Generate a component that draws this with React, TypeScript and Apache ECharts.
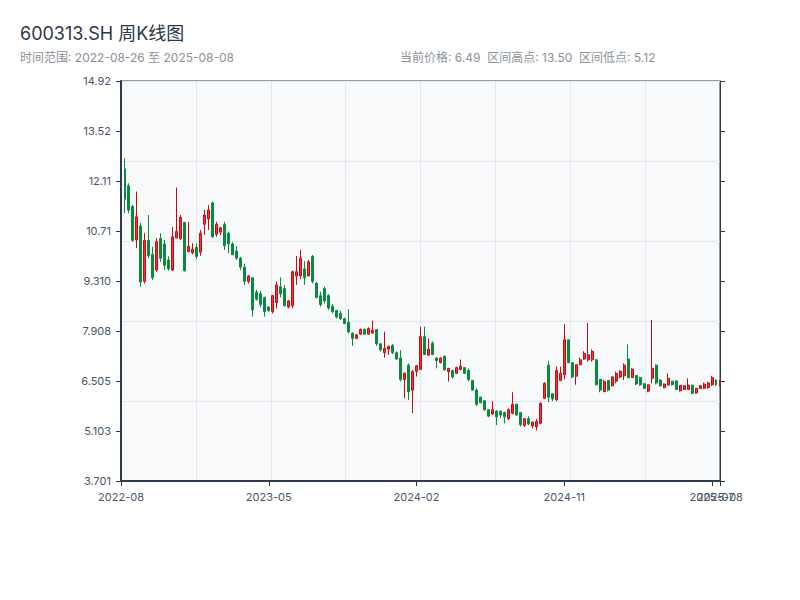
import React, { useEffect, useRef } from "react";
import * as echarts from "echarts";

const dates = [
  "2022-08-26","2022-09-02","2022-09-09","2022-09-16","2022-09-23","2022-09-30","2022-10-14","2022-10-21","2022-10-28","2022-11-04",
  "2022-11-11","2022-11-18","2022-11-25","2022-12-02","2022-12-09","2022-12-16","2022-12-23","2022-12-30","2023-01-06","2023-01-13",
  "2023-01-20","2023-02-03","2023-02-10","2023-02-17","2023-02-24","2023-03-03","2023-03-10","2023-03-17","2023-03-24","2023-03-31",
  "2023-04-07","2023-04-14","2023-04-21","2023-04-28","2023-05-05","2023-05-12","2023-05-19","2023-05-26","2023-06-02","2023-06-09",
  "2023-06-16","2023-06-21","2023-06-30","2023-07-07","2023-07-14","2023-07-21","2023-07-28","2023-08-04","2023-08-11","2023-08-18",
  "2023-08-25","2023-09-01","2023-09-08","2023-09-15","2023-09-22","2023-09-28","2023-10-13","2023-10-20","2023-10-27","2023-11-03",
  "2023-11-10","2023-11-17","2023-11-24","2023-12-01","2023-12-08","2023-12-15","2023-12-22","2023-12-29","2024-01-05","2024-01-12",
  "2024-01-19","2024-01-26","2024-02-02","2024-02-08","2024-02-23","2024-03-01","2024-03-08","2024-03-15","2024-03-22","2024-03-29",
  "2024-04-03","2024-04-12","2024-04-19","2024-04-26","2024-04-30","2024-05-10","2024-05-17","2024-05-24","2024-05-31","2024-06-07",
  "2024-06-14","2024-06-21","2024-06-28","2024-07-05","2024-07-12","2024-07-19","2024-07-26","2024-08-02","2024-08-09","2024-08-16",
  "2024-08-23","2024-08-30","2024-09-06","2024-09-13","2024-09-20","2024-09-27","2024-09-30","2024-10-11","2024-10-18","2024-10-25",
  "2024-11-01","2024-11-08","2024-11-15","2024-11-22","2024-11-29","2024-12-06","2024-12-13","2024-12-20","2024-12-27","2025-01-03",
  "2025-01-10","2025-01-17","2025-01-24","2025-01-27","2025-02-07","2025-02-14","2025-02-21","2025-02-28","2025-03-07","2025-03-14",
  "2025-03-21","2025-03-28","2025-04-03","2025-04-11","2025-04-18","2025-04-25","2025-04-30","2025-05-09","2025-05-16","2025-05-23",
  "2025-05-30","2025-06-06","2025-06-13","2025-06-20","2025-06-27","2025-07-04","2025-07-11","2025-07-18","2025-07-25","2025-08-01",
  "2025-08-08",
];

const opens = [
  11.72,12.45,11.98,11.40,10.46,10.85,9.30,10.45,10.05,9.62,
  10.50,10.35,9.90,9.62,10.52,10.50,10.95,10.13,10.10,10.25,
  10.12,10.90,11.05,11.50,10.62,10.68,10.90,10.65,10.35,10.15,
  9.95,9.70,9.30,9.40,9.00,8.95,8.85,8.58,8.45,8.70,
  9.15,9.10,8.58,8.62,9.45,9.45,9.65,9.45,10.00,9.25,
  8.90,9.10,8.90,8.60,8.48,8.40,8.25,8.15,7.85,7.70,
  7.82,7.95,7.82,7.85,7.95,7.55,7.30,7.40,7.50,7.30,
  7.15,6.55,6.95,6.25,6.78,6.83,7.75,7.23,7.56,7.15,
  7.02,7.20,6.77,6.80,6.72,6.83,6.88,6.80,6.52,6.25,
  6.05,5.95,5.70,5.58,5.66,5.66,5.62,5.45,5.60,5.85,
  5.62,5.26,5.45,5.25,5.22,5.32,6.02,6.95,6.15,5.98,
  6.52,6.68,7.66,7.02,6.64,6.96,7.12,7.10,7.10,7.10,
  6.55,6.21,6.52,6.37,6.50,6.62,6.65,7.12,6.60,6.66,
  6.60,6.43,6.22,6.58,6.95,6.53,6.32,6.39,6.50,6.51,
  6.23,6.27,6.27,6.39,6.17,6.29,6.30,6.32,6.40,6.53,
  6.38,
];

const closes = [
  12.72,11.60,11.30,10.45,11.11,9.28,10.45,10.02,9.40,10.41,
  9.95,9.75,9.65,10.55,10.70,11.10,9.60,10.28,10.20,10.00,
  10.65,11.16,11.30,10.55,10.90,10.80,10.30,10.35,10.05,9.95,
  9.70,9.30,9.45,8.50,8.80,8.65,8.45,8.48,8.90,9.20,
  8.95,8.62,8.75,9.57,9.57,9.95,9.40,9.85,9.30,8.85,
  8.65,8.75,8.55,8.45,8.30,8.25,8.12,7.88,7.70,7.80,
  7.95,7.82,7.98,7.93,7.55,7.38,7.42,7.48,7.30,7.12,
  6.55,6.72,6.20,6.77,6.93,7.75,7.25,7.40,7.25,7.08,
  7.15,6.82,6.86,6.62,6.88,6.92,6.72,6.55,6.25,5.85,
  5.90,5.70,5.52,5.70,5.50,5.55,5.50,5.70,5.85,5.55,
  5.28,5.45,5.30,5.35,5.37,5.88,6.44,6.05,6.00,6.80,
  6.72,7.66,7.02,6.62,6.96,7.10,7.28,7.24,7.34,6.40,
  6.25,6.49,6.25,6.62,6.72,6.78,6.95,6.60,6.84,6.42,
  6.40,6.30,6.40,6.86,6.45,6.37,6.42,6.58,6.40,6.27,
  6.38,6.37,6.39,6.16,6.30,6.37,6.42,6.45,6.60,6.40,
  6.49,
];

const lows = [
  11.68,11.21,11.21,10.41,10.23,9.15,9.24,9.95,9.34,9.57,
  9.85,9.62,9.60,9.59,10.51,10.46,9.57,10.13,10.06,9.92,
  10.02,10.60,10.74,10.51,10.55,10.60,10.18,10.09,10.03,9.90,
  9.62,9.20,9.24,8.31,8.76,8.57,8.31,8.45,8.40,8.54,
  8.85,8.59,8.54,8.54,9.20,9.36,9.20,9.45,9.24,8.82,
  8.59,8.68,8.50,8.40,8.26,8.22,8.10,7.84,7.49,7.68,
  7.80,7.80,7.80,7.84,7.49,7.33,7.16,7.24,7.26,7.10,
  6.49,6.02,5.97,5.60,6.63,6.81,7.23,7.23,7.23,6.86,
  7.00,6.79,6.49,6.58,6.70,6.80,6.70,6.49,6.23,5.80,
  5.88,5.67,5.49,5.55,5.27,5.46,5.32,5.41,5.57,5.53,
  5.23,5.22,5.27,5.18,5.12,5.29,6.00,5.91,5.94,5.94,
  6.50,6.55,7.00,6.58,6.40,6.95,7.10,7.05,7.05,6.39,
  6.19,6.19,6.21,6.35,6.44,6.58,6.53,6.58,6.60,6.39,
  6.37,6.28,6.19,6.44,6.41,6.35,6.30,6.39,6.38,6.25,
  6.21,6.25,6.25,6.14,6.15,6.28,6.28,6.29,6.37,6.37,
  6.35,
];

const highs = [
  12.75,12.75,12.05,11.44,11.82,10.94,10.65,11.16,10.27,10.51,
  10.65,10.46,10.00,10.83,11.93,11.16,10.97,10.97,10.37,10.37,
  10.74,11.30,11.44,11.54,10.97,10.83,10.97,10.70,10.40,10.29,
  9.99,9.79,9.48,9.40,9.06,9.03,8.87,8.60,8.92,9.29,
  9.41,9.20,8.78,9.60,10.01,10.18,9.87,9.90,10.04,9.28,
  9.01,9.15,8.94,8.66,8.50,8.48,8.28,8.52,7.86,7.82,
  7.98,7.98,8.01,8.20,7.96,7.56,7.89,7.49,7.54,7.33,
  7.37,6.75,7.00,6.81,6.95,8.03,8.03,7.70,7.62,7.17,
  7.17,7.21,6.87,6.82,6.91,7.11,6.89,6.86,6.53,6.30,
  6.07,5.97,5.71,5.94,5.69,5.67,5.65,5.74,6.19,5.87,
  5.63,5.46,5.52,5.37,5.44,5.91,6.47,7.07,6.16,6.91,
  6.91,8.10,7.66,7.03,6.97,7.16,7.34,8.13,7.39,7.12,
  6.56,6.53,6.53,6.63,6.77,6.81,7.00,7.53,6.86,6.67,
  6.63,6.44,6.41,8.22,6.97,6.55,6.44,6.72,6.51,6.51,
  6.39,6.39,6.58,6.39,6.31,6.39,6.46,6.49,6.65,6.55,
  6.53,
];

const RANGE_HIGH = 13.5;
const RANGE_LOW = 5.12;
const PAD = 1.4192;
const Y_MIN = RANGE_LOW - PAD;
const Y_MAX = RANGE_HIGH + PAD;
const LABEL_STEP = 37;

const TITLE = "600313.SH 周K线图";
const SUBTITLE = "时间范围: 2022-08-26 至 2025-08-08";
const STATS = "当前价格: 6.49  区间高点: 13.50  区间低点: 5.12";

const AXIS_COLOR = "#2c3a4b";
const LABEL_COLOR = "#4a5568";
const GRID_COLOR = "#e3e6eb";
const FONT = "Inter, 'Noto Sans CJK SC', sans-serif";

export default function App() {
  const ref = useRef<HTMLDivElement>(null);

  useEffect(() => {
    if (!ref.current) return;
    const chart = echarts.init(ref.current, undefined, { renderer: "svg" });
    const data = dates.map((_, i) => [opens[i], closes[i], lows[i], highs[i]]);
    const yInterval = (Y_MAX - Y_MIN) / 8;
    const last = dates.length - 1;
    const shown = (i: number) => i % LABEL_STEP === 0 || i === last;

    chart.setOption({
      animation: false,
      textStyle: { fontFamily: FONT },
      graphic: [
        { type: "text", left: 20, top: 24, style: { text: TITLE, fontSize: 18, fill: "#2d3748", fontFamily: FONT } },
        { type: "text", left: 20, top: 51, style: { text: SUBTITLE, fontSize: 12, fill: "#8a9099", fontFamily: FONT } },
        { type: "text", left: 400, top: 51, style: { text: STATS, fontSize: 12, fill: "#8a9099", fontFamily: FONT } },
      ],
      grid: {
        left: 121,
        right: 80,
        top: 81,
        bottom: 119,
        show: true,
        backgroundColor: "#f7f9fb",
        borderColor: AXIS_COLOR,
        borderWidth: 1,
      },
      xAxis: [
        {
          type: "category",
          data: dates,
          boundaryGap: false,
          position: "bottom",
          axisLine: { show: true, lineStyle: { color: AXIS_COLOR, width: 2 } },
          axisTick: {
            show: true,
            interval: (i: number) => shown(i),
            length: 5,
            lineStyle: { color: AXIS_COLOR },
          },
          axisLabel: {
            interval: 0,
            color: LABEL_COLOR,
            fontSize: 11,
            margin: 10,
            formatter: (v: string, i: number) => (shown(i) ? v.slice(0, 7) : ""),
          },
          splitLine: { show: false },
          z: 5,
        },
        {
          type: "value",
          min: 0,
          max: 8,
          interval: 1,
          position: "bottom",
          axisLine: { show: false },
          axisTick: { show: false },
          axisLabel: { show: false },
          splitLine: { show: true, lineStyle: { color: GRID_COLOR, width: 1 } },
        },
      ],
      yAxis: [
        {
          type: "value",
          min: Y_MIN,
          max: Y_MAX,
          interval: yInterval,
          position: "left",
          axisLine: { show: true, lineStyle: { color: AXIS_COLOR, width: 2 } },
          axisTick: { show: true, length: 5, lineStyle: { color: AXIS_COLOR } },
          axisLabel: {
            color: LABEL_COLOR,
            fontSize: 11,
            margin: 10,
            formatter: (v: number) => Number(v).toPrecision(4),
          },
          splitLine: { show: false },
          z: 5,
        },
        {
          type: "value",
          min: Y_MIN,
          max: Y_MAX,
          interval: yInterval,
          position: "right",
          axisLine: { show: true, lineStyle: { color: AXIS_COLOR, width: 1 } },
          axisTick: { show: true, length: 5, lineStyle: { color: AXIS_COLOR } },
          axisLabel: { show: false },
          splitLine: { show: false },
        },
        {
          type: "value",
          min: Y_MIN,
          max: Y_MAX,
          interval: (Y_MAX - Y_MIN) / 5,
          position: "left",
          axisLine: { show: false },
          axisTick: { show: false },
          axisLabel: { show: false },
          splitLine: { show: true, lineStyle: { color: GRID_COLOR, width: 1 } },
        },
      ],
      series: [
        {
          type: "candlestick",
          xAxisIndex: 0,
          yAxisIndex: 0,
          data,
          barWidth: "62%",
          itemStyle: {
            color: "#f2343a",
            borderColor: "#c80a10",
            color0: "#0a8a3c",
            borderColor0: "#0a8a3c",
            borderWidth: 1,
          },
        },
      ],
    });

    return () => chart.dispose();
  }, []);

  return (
    <div
      ref={ref}
      style={{ position: "absolute", left: 0, top: 0, width: 800, height: 600 }}
    />
  );
}
